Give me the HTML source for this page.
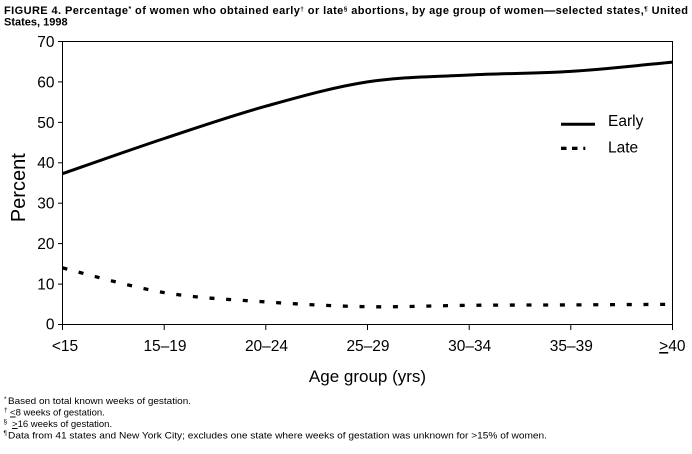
<!DOCTYPE html>
<html>
<head>
<meta charset="utf-8">
<style>
  html, body { margin: 0; padding: 0; background: #ffffff; }
  body { width: 692px; height: 454px; overflow: hidden; }
  svg { display: block; }
  text { font-family: "Liberation Sans", Arial, sans-serif; fill: #000; }
</style>
</head>
<body>
<svg width="692" height="454" viewBox="0 0 692 454" xmlns="http://www.w3.org/2000/svg">
  <rect x="0" y="0" width="692" height="454" fill="#ffffff"/>

  <!-- Title -->
  <text x="4" y="14" font-size="11" font-weight="bold" textLength="684" lengthAdjust="spacing">FIGURE 4. Percentage<tspan font-size="7" dy="-3">*</tspan><tspan dy="3"> of women who obtained early</tspan><tspan font-size="6.5" dy="-3">†</tspan><tspan dy="3"> or late</tspan><tspan font-size="6.5" dy="-3">§</tspan><tspan dy="3"> abortions, by age group of women—selected states,</tspan><tspan font-size="6.5" dy="-3">¶</tspan><tspan dy="3"> United</tspan></text>
  <text x="4" y="25.5" font-size="11" font-weight="bold">States, 1998</text>

  <!-- Plot frame -->
  <rect x="62.5" y="41.5" width="610" height="283" fill="none" stroke="#000" stroke-width="1"/>

  <!-- Y ticks -->
  <g stroke="#000" stroke-width="1">
    <line x1="58" y1="41.5" x2="62.5" y2="41.5"/>
    <line x1="58" y1="81.9" x2="62.5" y2="81.9"/>
    <line x1="58" y1="122.4" x2="62.5" y2="122.4"/>
    <line x1="58" y1="162.8" x2="62.5" y2="162.8"/>
    <line x1="58" y1="203.2" x2="62.5" y2="203.2"/>
    <line x1="58" y1="243.6" x2="62.5" y2="243.6"/>
    <line x1="58" y1="284.1" x2="62.5" y2="284.1"/>
    <line x1="58" y1="324.5" x2="62.5" y2="324.5"/>
  </g>
  <g font-size="15.5" text-anchor="end">
    <text x="54.5" y="47">70</text>
    <text x="54.5" y="87.3">60</text>
    <text x="54.5" y="127.8">50</text>
    <text x="54.5" y="168.2">40</text>
    <text x="54.5" y="208.6">30</text>
    <text x="54.5" y="249">20</text>
    <text x="54.5" y="289.5">10</text>
    <text x="54.5" y="329.5">0</text>
  </g>

  <!-- X ticks -->
  <g stroke="#000" stroke-width="1">
    <line x1="62.5" y1="324.5" x2="62.5" y2="330"/>
    <line x1="164.2" y1="324.5" x2="164.2" y2="330"/>
    <line x1="265.8" y1="324.5" x2="265.8" y2="330"/>
    <line x1="367.5" y1="324.5" x2="367.5" y2="330"/>
    <line x1="469.2" y1="324.5" x2="469.2" y2="330"/>
    <line x1="570.8" y1="324.5" x2="570.8" y2="330"/>
    <line x1="672.5" y1="324.5" x2="672.5" y2="330"/>
  </g>
  <g font-size="15.5" text-anchor="middle">
    <text x="65" y="351">&lt;15</text>
    <text x="165" y="351">15–19</text>
    <text x="266.5" y="351">20–24</text>
    <text x="368" y="351">25–29</text>
    <text x="469.7" y="351">30–34</text>
    <text x="571.3" y="351">35–39</text>
    <text x="672.3" y="351"><tspan text-decoration="underline">&gt;</tspan>40</text>
  </g>

  <!-- Axis titles -->
  <text x="367.5" y="382" font-size="17" text-anchor="middle">Age group (yrs)</text>
  <text transform="translate(25,187.7) rotate(-90)" font-size="20" text-anchor="middle">Percent</text>

  <!-- Early series -->
  <path d="M62.5,173.7 C79.45,167.83 130.3,149.75 164.2,138.5 C198.1,127.25 231.9,115.63 265.8,106.2 C299.7,96.77 333.6,87.1 367.5,81.9 C401.4,76.7 435.3,76.75 469.2,75.0 C503.1,73.25 536.9,73.55 570.8,71.4 C604.7,69.25 655.55,63.65 672.5,62.1"
        fill="none" stroke="#000" stroke-width="3" stroke-linejoin="round"/>

  <!-- Late series -->
  <path d="M62.5,267.9 C79.45,272.02 130.3,286.93 164.2,292.6 C198.1,298.27 231.9,299.55 265.8,301.9 C299.7,304.25 333.6,306.13 367.5,306.7 C401.4,307.27 435.3,305.6 469.2,305.3 C503.1,305.0 536.9,305.07 570.8,304.9 C604.7,304.73 655.55,304.4 672.5,304.3"
        fill="none" stroke="#000" stroke-width="3.3" stroke-dasharray="5 11.7"/>

  <!-- Legend -->
  <line x1="561" y1="124.3" x2="595" y2="124.3" stroke="#000" stroke-width="3"/>
  <text x="608" y="126" font-size="15.5">Early</text>
  <rect x="561" y="146.7" width="5.5" height="3.3" fill="#000"/>
  <rect x="572" y="146.7" width="5.5" height="3.3" fill="#000"/>
  <rect x="583.3" y="146.7" width="2" height="3.3" fill="#000"/>
  <text x="608" y="152.5" font-size="15.5">Late</text>

  <!-- Footnotes -->
  <g font-size="9.5">
    <text x="4" y="401" font-size="6.5">*</text>
    <text x="8" y="404" textLength="183" lengthAdjust="spacingAndGlyphs">Based on total known weeks of gestation.</text>

    <text x="4" y="412" font-size="6.5">†</text>
    <text x="10" y="415.5"><tspan text-decoration="underline">&lt;</tspan>8 weeks of gestation.</text>

    <text x="3.5" y="423.5" font-size="6.5">§</text>
    <text x="12" y="427"><tspan text-decoration="underline">&gt;</tspan>16 weeks of gestation.</text>

    <text x="3.5" y="435" font-size="6.5">¶</text>
    <text x="8" y="438.5" textLength="539" lengthAdjust="spacingAndGlyphs">Data from 41 states and New York City; excludes one state where weeks of gestation was unknown for &gt;15% of women.</text>
  </g>
</svg>
</body>
</html>
